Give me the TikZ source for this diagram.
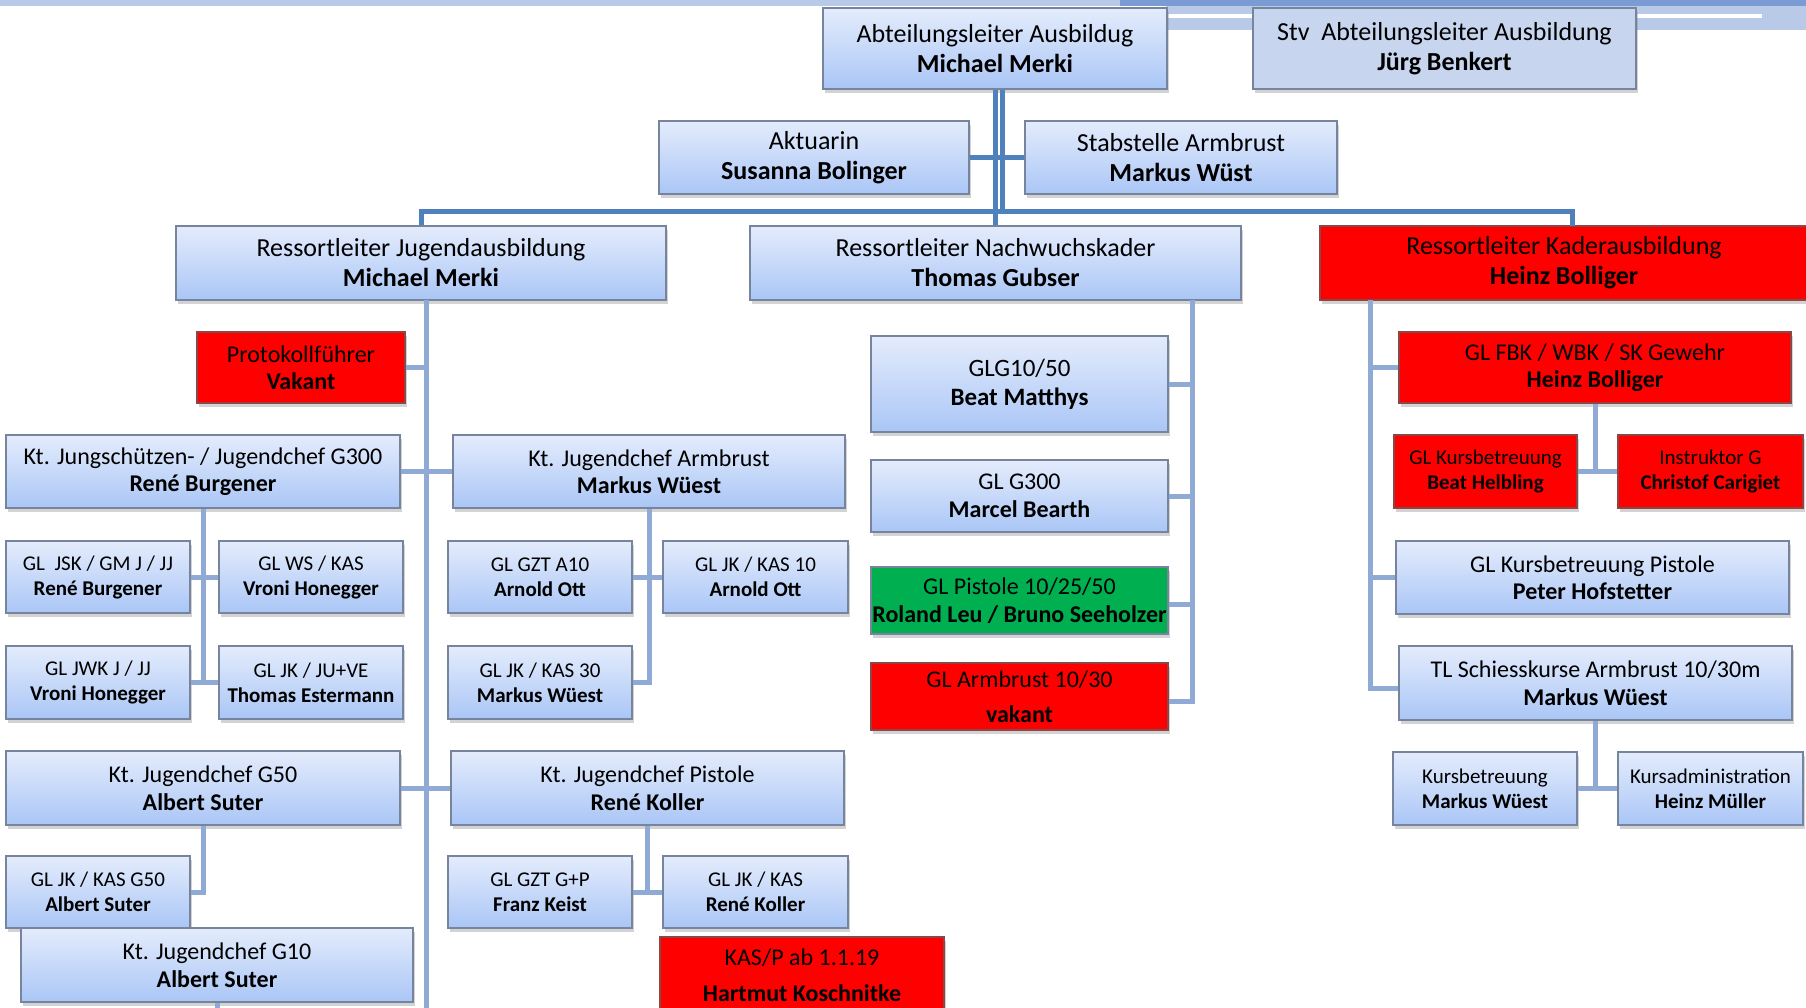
\documentclass[tikz,border=0pt]{standalone}
\usepackage{fontspec}
\setmainfont{Carlito}
\usetikzlibrary{shadows}

\definecolor{boxtop}{RGB}{228,236,252}
\definecolor{boxbot}{RGB}{170,198,246}
\definecolor{boxline}{RGB}{118,132,158}
\definecolor{redline}{RGB}{140,70,70}
\definecolor{alarmred}{RGB}{255,0,0}
\definecolor{okgreen}{RGB}{0,176,80}
\definecolor{stvfill}{RGB}{199,213,238}
\definecolor{mainblue}{RGB}{79,129,189}
\definecolor{subblue}{RGB}{143,170,212}
\definecolor{hdrlight}{RGB}{185,201,232}
\definecolor{hdrdark}{RGB}{122,155,212}

\newcommand{\bigtxt}{\fontsize{26}{30}\selectfont}
\newcommand{\midtxt}{\fontsize{24}{27.5}\selectfont}
\newcommand{\smalltxt}{\fontsize{21}{25}\selectfont}

\tikzset{
  box/.style={rectangle, draw=boxline, line width=1.5pt, align=center, inner sep=0pt, drop shadow={shadow xshift=2pt, shadow yshift=-4pt, opacity=0.35}},
  bluebox/.style={box, top color=boxtop, bottom color=boxbot},
  redbox/.style={box, draw=redline, fill=alarmred},
  greenbox/.style={box, fill=okgreen},
  mainlink/.style={draw=mainblue, line width=5pt},
  sublink/.style={draw=subblue, line width=5pt}
}

\begin{document}
\begin{tikzpicture}[x=1pt, y=-1pt]
  \clip (0,0) rectangle (1806,1007);
  \fill[hdrlight] (0,0) rectangle (1120,6);
  \fill[hdrdark] (1120,0) rectangle (1806,6);
  \fill[hdrlight] (1166,6) rectangle (1806,30);
  \draw[white, line width=4pt] (1166,16) -- (1762,16);

  \node[bluebox, minimum width=344, minimum height=81, font=\bigtxt] (abt) at (995,48.5) {Abteilungsleiter Ausbildug\\\textbf{Michael Merki}};
  \node[box, fill=stvfill, minimum width=383, minimum height=81, font=\bigtxt] (stv) at (1444.5,48.5) {Stv\ \ Abteilungsleiter Ausbildung\\\textbf{Jürg Benkert}};
  \node[bluebox, minimum width=310, minimum height=73, font=\bigtxt] (akt) at (814,157.5) {Aktuarin\\\textbf{Susanna Bolinger}};
  \node[bluebox, minimum width=312, minimum height=73, font=\bigtxt] (stab) at (1181,157.5) {Stabstelle Armbrust\\\textbf{Markus Wüst}};
  \node[bluebox, minimum width=490, minimum height=74, font=\bigtxt] (jugend) at (421,263) {Ressortleiter Jugendausbildung\\\textbf{Michael Merki}};
  \node[bluebox, minimum width=491, minimum height=74, font=\bigtxt] (nach) at (995.5,263) {Ressortleiter Nachwuchskader\\\textbf{Thomas Gubser}};
  \node[redbox, minimum width=488, minimum height=74, font=\bigtxt] (kader) at (1564,263) {Ressortleiter Kaderausbildung\\\textbf{Heinz Bolliger}};

  \node[redbox, minimum width=208, minimum height=71, font=\midtxt] (proto) at (301,367.5) {Protokollführer\\\textbf{Vakant}};
  \node[bluebox, minimum width=394, minimum height=73, font=\midtxt] (jsg300) at (203,471.5) {Kt. Jungschützen- / Jugendchef G300\\\textbf{René Burgener}};
  \node[bluebox, minimum width=392, minimum height=73, font=\midtxt] (jarmb) at (649,471.5) {Kt. Jugendchef Armbrust\\\textbf{Markus Wüest}};
  \node[bluebox, minimum width=184, minimum height=72, font=\smalltxt] (gljsk) at (98,577) {GL\ \ JSK / GM J / JJ\\\textbf{René Burgener}};
  \node[bluebox, minimum width=184, minimum height=72, font=\smalltxt] (glws) at (311,577) {GL WS / KAS\\\textbf{Vroni Honegger}};
  \node[bluebox, minimum width=184, minimum height=73, font=\smalltxt] (gljwk) at (98,682.5) {GL JWK J / JJ\\\textbf{Vroni Honegger}};
  \node[bluebox, minimum width=184, minimum height=73, font=\smalltxt] (gljkju) at (311,682.5) {GL JK / JU+VE\\\textbf{Thomas Estermann}};
  \node[bluebox, minimum width=184, minimum height=72, font=\smalltxt] (glgzt10) at (540,577) {GL GZT A10\\\textbf{Arnold Ott}};
  \node[bluebox, minimum width=185, minimum height=72, font=\smalltxt] (glkas10) at (755.5,577) {GL JK / KAS 10\\\textbf{Arnold Ott}};
  \node[bluebox, minimum width=184, minimum height=73, font=\smalltxt] (glkas30) at (540,682.5) {GL JK / KAS 30\\\textbf{Markus Wüest}};
  \node[bluebox, minimum width=394, minimum height=74, font=\midtxt] (jg50) at (203,788) {Kt. Jugendchef G50\\\textbf{Albert Suter}};
  \node[bluebox, minimum width=393, minimum height=74, font=\midtxt] (jpist) at (647.5,788) {Kt. Jugendchef Pistole\\\textbf{René Koller}};
  \node[bluebox, minimum width=184, minimum height=72, font=\smalltxt] (glkasg50) at (98,892) {GL JK / KAS G50\\\textbf{Albert Suter}};
  \node[bluebox, minimum width=184, minimum height=72, font=\smalltxt] (glgztgp) at (540,892) {GL GZT G+P\\\textbf{Franz Keist}};
  \node[bluebox, minimum width=185, minimum height=72, font=\smalltxt] (glkasp) at (755.5,892) {GL JK / KAS\\\textbf{René Koller}};
  \node[redbox, minimum width=284, minimum height=76, font=\midtxt] (kasp) at (802,975) {KAS/P ab 1.1.19\\[8pt]\textbf{Hartmut Koschnitke}};
  \node[bluebox, minimum width=392, minimum height=74, font=\midtxt] (jg10) at (217,965) {Kt. Jugendchef G10\\\textbf{Albert Suter}};

  \node[bluebox, minimum width=297, minimum height=96, font=\fontsize{25}{29}\selectfont] (glg1050) at (1019.5,384) {GLG10/50\\\textbf{Beat Matthys}};
  \node[bluebox, minimum width=297, minimum height=72, font=\midtxt] (glg300) at (1019.5,496) {GL G300\\\textbf{Marcel Bearth}};
  \node[greenbox, minimum width=297, minimum height=67, font=\midtxt] (glpist) at (1019.5,600.5) {GL Pistole 10/25/50\\\textbf{Roland Leu / Bruno Seeholzer}};
  \node[redbox, minimum width=297, minimum height=67, font=\midtxt] (glarmb) at (1019.5,696.5) {GL Armbrust 10/30\\[8pt]\textbf{vakant}};

  \node[redbox, minimum width=392, minimum height=71, font=\midtxt] (glfbk) at (1595,367.5) {GL FBK / WBK / SK Gewehr\\\textbf{Heinz Bolliger}};
  \node[redbox, minimum width=183, minimum height=73, font=\smalltxt] (glkurs) at (1485.5,471.5) {GL Kursbetreuung\\\textbf{Beat Helbling}};
  \node[redbox, minimum width=185, minimum height=73, font=\smalltxt] (instr) at (1710.5,471.5) {Instruktor G\\\textbf{Christof Carigiet}};
  \node[bluebox, minimum width=393, minimum height=73, font=\midtxt] (glkpist) at (1592.5,577.5) {GL Kursbetreuung Pistole\\\textbf{Peter Hofstetter}};
  \node[bluebox, minimum width=393, minimum height=74, font=\midtxt] (tlarmb) at (1595.5,683) {TL Schiesskurse Armbrust 10/30m\\\textbf{Markus Wüest}};
  \node[bluebox, minimum width=184, minimum height=73, font=\smalltxt] (kursb) at (1485,788.5) {Kursbetreuung\\\textbf{Markus Wüest}};
  \node[bluebox, minimum width=185, minimum height=73, font=\smalltxt] (kursadm) at (1710.5,788.5) {Kursadministration\\\textbf{Heinz Müller}};

  \coordinate (bus) at (995.5,211);
  \coordinate (kdrop) at (1572,226);
  \coordinate (jtrunk) at (426.5,300);
  \coordinate (ntrunk) at (1192,300);
  \coordinate (ktrunk) at (1370,300);

  \draw[mainlink] (abt.south) -- (abt.south |- nach.north);
  \draw[mainlink] ([xshift=7pt]abt.south) -- ([xshift=7pt]abt.south |- bus);
  \draw[mainlink] (akt.east) -- (stab.west);
  \draw[mainlink] (jugend.north) |- (bus) -| (kdrop);

  \draw[sublink] (jtrunk) -- (jtrunk |- 0,1010);
  \draw[sublink] (proto.east) -- (proto.east -| jtrunk);
  \draw[sublink] (jsg300.east) -- (jarmb.west);
  \draw[sublink] (jg50.east) -- (jpist.west);
  \draw[sublink] (jg10.south) |- (jtrunk |- 0,1010);
  \draw[sublink] (jsg300.south) |- (gljwk.east);
  \draw[sublink] (gljsk.east) -- (glws.west);
  \draw[sublink] (gljwk.east) -- (gljkju.west);
  \draw[sublink] (jarmb.south) |- (glkas30.east);
  \draw[sublink] (glgzt10.east) -- (glkas10.west);
  \draw[sublink] (jg50.south) |- (glkasg50.east);
  \draw[sublink] (jpist.south) -- (jpist.south |- glgztgp.east);
  \draw[sublink] (glgztgp.east) -- (glkasp.west);

  \draw[sublink] (ntrunk) |- ([yshift=-5pt]glarmb.east);
  \draw[sublink] (glg1050.east) -- (glg1050.east -| ntrunk);
  \draw[sublink] (glg300.east) -- (glg300.east -| ntrunk);
  \draw[sublink] ([yshift=-4pt]glpist.east) -- ([yshift=-4pt]glpist.east -| ntrunk);

  \draw[sublink] (ktrunk) |- ([yshift=-5pt]tlarmb.west);
  \draw[sublink] (glfbk.west -| ktrunk) -- (glfbk.west);
  \draw[sublink] (glkpist.west -| ktrunk) -- (glkpist.west);
  \draw[sublink] (glfbk.south) -- (glfbk.south |- glkurs.east);
  \draw[sublink] (glkurs.east) -- (instr.west);
  \draw[sublink] (tlarmb.south) -- (tlarmb.south |- kursb.east);
  \draw[sublink] (kursb.east) -- (kursadm.west);
\end{tikzpicture}
\end{document}
